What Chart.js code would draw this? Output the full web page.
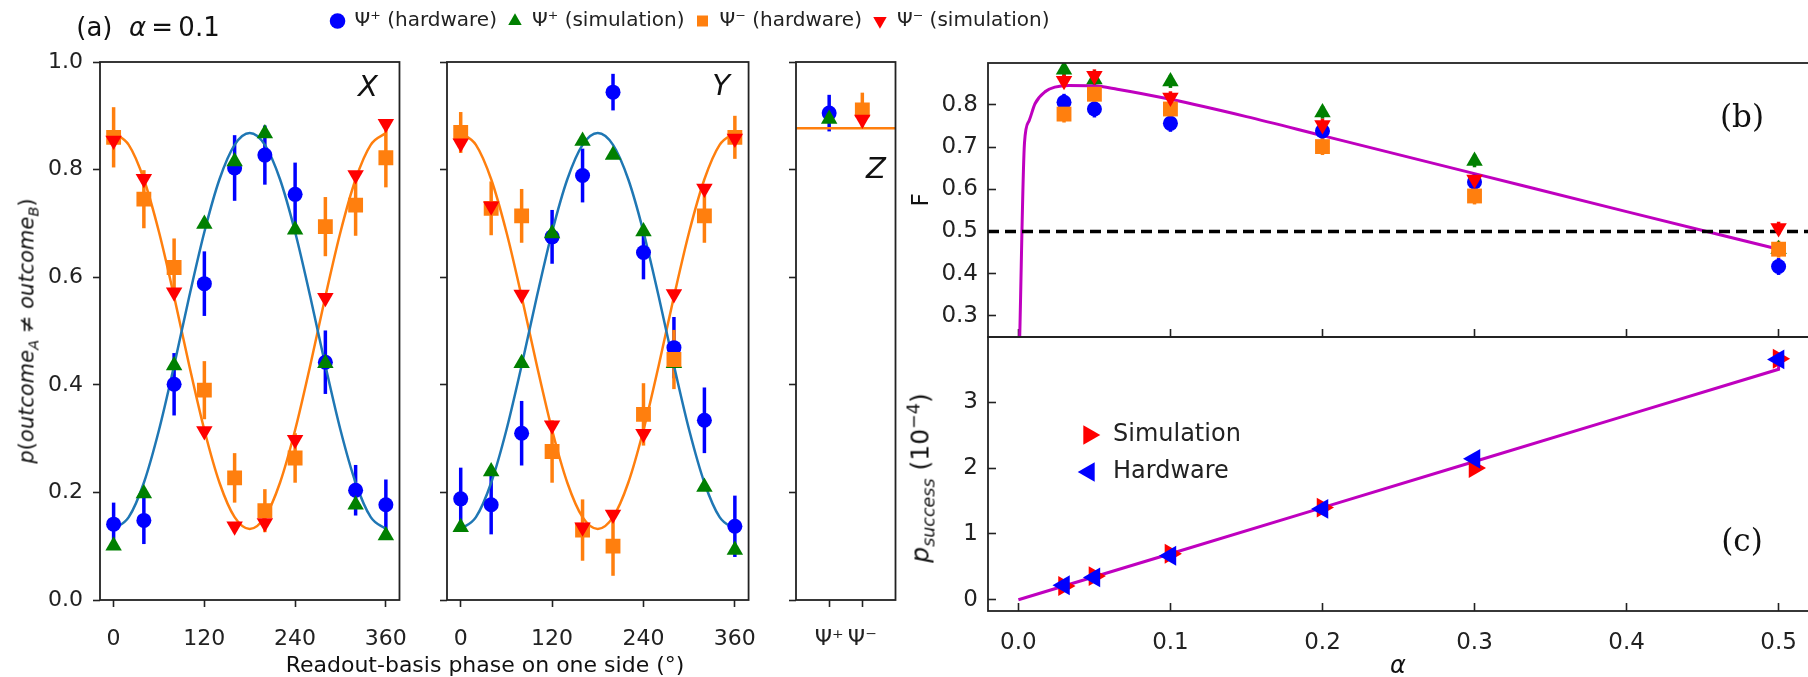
<!DOCTYPE html>
<html>
<head>
<meta charset="utf-8">
<script src="https://cdn.jsdelivr.net/npm/chart.js@4.4.1/dist/chart.umd.min.js"></script>
<style>
  html, body { margin: 0; background: #fff; }
  body { position: relative; width: 1808px; height: 677px; overflow: hidden; font-family: 'DejaVu Sans'; color: #111; }
  canvas { position: absolute; }
  .lbl { position: absolute; white-space: nowrap; transform: translate(-50%, -50%); line-height: 1; }
  .rot { transform: translate(-50%, -50%) rotate(-90deg); }
  .serif { font-family: 'DejaVu Serif'; }
  sub, sup { font-size: 70%; line-height: 0; }
</style>
</head>
<body>
<canvas id="legendTop"></canvas>
<canvas id="cx"></canvas>
<canvas id="cy"></canvas>
<canvas id="cz"></canvas>
<canvas id="cb"></canvas>
<canvas id="cc"></canvas>
<canvas id="legendC"></canvas>

<div class="lbl" style="left:148px;top:27px;font-size:26px">(a)&nbsp; <i>α</i>&thinsp;=&thinsp;0.1</div>
<div class="lbl" style="left:368px;top:86px;font-size:29px"><i>X</i></div>
<div class="lbl" style="left:721px;top:85px;font-size:29px"><i>Y</i></div>
<div class="lbl" style="left:876px;top:168px;font-size:29px"><i>Z</i></div>
<div class="lbl rot" style="left:27px;top:331px;font-size:21px"><i>p</i>(<i>outcome</i><sub><i>A</i></sub> ≠ <i>outcome</i><sub><i>B</i></sub>)</div>
<div class="lbl" style="left:485px;top:665px;font-size:22px">Readout-basis phase on one side (°)</div>
<div class="lbl rot" style="left:920px;top:200px;font-size:23px">F</div>
<div class="lbl rot" style="left:920px;top:478px;font-size:25px"><i>p</i><sub><i>success</i></sub> (10<sup>−4</sup>)</div>
<div class="lbl" style="left:1398px;top:665px;font-size:24px"><i>α</i></div>
<div class="lbl serif" style="left:1742px;top:116px;font-size:31px">(b)</div>
<div class="lbl serif" style="left:1742px;top:540px;font-size:31px">(c)</div>

<script>
// ---- panel (a): readout phase scans, alpha = 0.1 ----
const phases = [0, 40, 80, 120, 160, 200, 240, 280, 320, 360];

const xPlusHw     = [0.141, 0.148, 0.401, 0.588, 0.803, 0.827, 0.754, 0.442, 0.204, 0.177];
const xPlusHwErr  = [0.040, 0.044, 0.058, 0.060, 0.061, 0.055, 0.059, 0.059, 0.047, 0.047];
const xPlusSim    = [0.101, 0.198, 0.436, 0.699, 0.815, 0.867, 0.688, 0.440, 0.177, 0.120];
const xMinusHw    = [0.860, 0.745, 0.618, 0.390, 0.227, 0.166, 0.264, 0.694, 0.734, 0.822];
const xMinusHwErr = [0.056, 0.054, 0.054, 0.054, 0.046, 0.040, 0.046, 0.055, 0.057, 0.055];
const xMinusSim   = [0.854, 0.783, 0.572, 0.314, 0.137, 0.143, 0.298, 0.562, 0.790, 0.885];

const yPlusHw     = [0.188, 0.177, 0.310, 0.675, 0.789, 0.944, 0.646, 0.469, 0.334, 0.137];
const yPlusHwErr  = [0.058, 0.055, 0.060, 0.050, 0.050, 0.034, 0.050, 0.057, 0.061, 0.057];
const yPlusSim    = [0.135, 0.239, 0.440, 0.681, 0.853, 0.827, 0.685, 0.440, 0.210, 0.093];
const yMinusHw    = [0.869, 0.728, 0.714, 0.276, 0.130, 0.100, 0.345, 0.447, 0.714, 0.860];
const yMinusHwErr = [0.038, 0.050, 0.050, 0.058, 0.057, 0.055, 0.058, 0.055, 0.050, 0.040];
const yMinusSim   = [0.849, 0.732, 0.568, 0.325, 0.135, 0.159, 0.309, 0.569, 0.765, 0.858];

// fitted curves
const fitPhase = [0, 20, 40, 60, 80, 100, 120, 140, 160, 180, 200, 220, 240, 260, 280, 300, 320, 340, 360];
const fitPlus  = [0.132, 0.154, 0.218, 0.316, 0.436, 0.564, 0.684, 0.782, 0.846, 0.868, 0.846, 0.782, 0.684, 0.564, 0.436, 0.316, 0.218, 0.154, 0.132];
const fitMinus = [0.868, 0.846, 0.782, 0.684, 0.564, 0.436, 0.316, 0.218, 0.154, 0.132, 0.154, 0.218, 0.316, 0.436, 0.564, 0.684, 0.782, 0.846, 0.868];

const zCategories = ['Ψ⁺', 'Ψ⁻'];
const zHw    = [0.905, 0.911];
const zHwErr = [0.034, 0.032];
const zSim   = [0.894, 0.893];
const zFit   = 0.877;

const seriesNames = ['Ψ⁺ (hardware)', 'Ψ⁺ (simulation)', 'Ψ⁻ (hardware)', 'Ψ⁻ (simulation)'];

// ---- panel (b): fidelity vs alpha ----
const alphas    = [0.03, 0.05, 0.1, 0.2, 0.3, 0.5];
const fPlusHw   = [0.806, 0.790, 0.756, 0.738, 0.617, 0.417];
const fPlusSim  = [0.883, 0.860, 0.855, 0.782, 0.667, 0.458];
const fMinusHw  = [0.778, 0.825, 0.790, 0.701, 0.584, 0.458];
const fMinusSim = [0.857, 0.869, 0.817, 0.752, 0.623, 0.508];
const fHwErr    = [0.02, 0.02, 0.02, 0.02, 0.02, 0.02];
const fSimErr   = [0.015, 0.015, 0.015, 0.015, 0.015, 0.015];
const fitAlpha  = [0.0008, 0.004, 0.007, 0.011, 0.018, 0.024, 0.033, 0.05, 0.065, 0.1, 0.15, 0.2, 0.3, 0.4, 0.5];
const fitF      = [0.24, 0.71, 0.762, 0.803, 0.832, 0.842, 0.846, 0.845, 0.837, 0.813, 0.772, 0.727, 0.637, 0.547, 0.458];
const fThreshold = 0.5;

// ---- panel (c): success probability (1e-4) vs alpha ----
const pSim = [0.21, 0.36, 0.70, 1.40, 2.00, 3.66];
const pHw  = [0.22, 0.34, 0.67, 1.38, 2.14, 3.65];
const pFitAlpha = [0, 0.1, 0.2, 0.3, 0.4, 0.5, 0.5];
const pFit      = [0, 0.70, 1.40, 2.10, 2.80, 3.50, 3.66];
const cLegend = ['Simulation', 'Hardware'];

// ---- styling ----
const BLUE = '#0000ff', GREEN = '#008000', ORANGE = '#ff7f0e', RED = '#ff0000';
const TAB_BLUE = '#1f77b4', MAGENTA = '#bf00bf', INK = '#222';

Chart.defaults.font.family = "'DejaVu Sans'";
Chart.defaults.color = INK;

const pts = (xs, ys) => xs.map((x, i) => ({ x, y: ys[i] }));

// vertical error bars, drawn through the chart's own scales
const errorBars = {
  id: 'errorBars',
  beforeDatasetsDraw(chart) {
    const { ctx, scales: { x, y } } = chart;
    ctx.save();
    chart.data.datasets.forEach((ds, i) => {
      if (!ds.errors || !chart.isDatasetVisible(i)) return;
      ctx.strokeStyle = ds.pointBackgroundColor;
      ctx.lineWidth = ds.errorWidth || 3.5;
      ds.data.forEach((p, j) => {
        const e = ds.errors[j];
        if (!e) return;
        const px = x.getPixelForValue(p.x);
        ctx.beginPath();
        ctx.moveTo(px, y.getPixelForValue(p.y - e));
        ctx.lineTo(px, y.getPixelForValue(p.y + e));
        ctx.stroke();
      });
    });
    ctx.restore();
  }
};

// box around the plot area (matplotlib spines)
const frame = {
  id: 'frame',
  afterDatasetsDraw(chart, args, opts) {
    const { ctx, chartArea: a } = chart;
    ctx.save();
    ctx.strokeStyle = INK;
    ctx.lineWidth = opts.width || 1.8;
    ctx.strokeRect(a.left, a.top, a.right - a.left, a.bottom - a.top);
    ctx.restore();
  }
};
Chart.register(errorBars, frame);

function marker(label, data, kind, order, errors, size) {
  const s = {
    plusHw:   { pointStyle: 'circle',   r: 7.5, c: BLUE },
    plusSim:  { pointStyle: 'triangle', r: 9.5, c: GREEN, rot: 0 },
    minusHw:  { pointStyle: 'rect',     r: 10.5, c: ORANGE },
    minusSim: { pointStyle: 'triangle', r: 9.5, c: RED, rot: 180 },
    right:    { pointStyle: 'triangle', r: 11.5, c: RED, rot: 90 },
    left:     { pointStyle: 'triangle', r: 11.5, c: BLUE, rot: -90 }
  }[kind];
  return {
    label, data, order, errors,
    pointStyle: s.pointStyle, pointRotation: s.rot || 0,
    pointRadius: size || s.r, pointHoverRadius: size || s.r,
    pointBackgroundColor: s.c, backgroundColor: s.c, borderColor: s.c,
    pointBorderWidth: 0, borderWidth: 0, showLine: false
  };
}

function curve(data, color, width, extra) {
  return Object.assign({
    type: 'line', data, borderColor: color, borderWidth: width, pointRadius: 0,
    fill: false, order: 10, cubicInterpolationMode: 'monotone', clip: 0
  }, extra || {});
}

function scale(axis, min, max, step, o) {
  return {
    type: 'linear', min, max, position: axis === 'x' ? 'bottom' : 'left',
    afterFit: s => { if (axis === 'x') s.height = o.size; else s.width = o.size; },
    afterBuildTicks: o.fixed ? (s => { s.ticks = o.fixed.map(v => ({ value: v })); }) : undefined,
    ticks: {
      stepSize: step, includeBounds: false, display: o.labels !== false,
      padding: o.pad || 8, color: INK, font: { size: o.font || 22 },
      callback: o.fmt, maxRotation: 0, autoSkip: false
    },
    grid: { drawOnChartArea: false, drawTicks: true, tickLength: o.tick, tickWidth: 1.6, tickColor: INK },
    border: { display: false }
  };
}

function place(id, area, yW, xH, pad) {
  const cv = document.getElementById(id);
  const w = area.r - area.l + yW + pad[0] + pad[2];
  const h = area.b - area.t + xH + pad[1] + pad[3];
  cv.width = w; cv.height = h;
  cv.style.width = w + 'px'; cv.style.height = h + 'px';
  cv.style.left = (area.l - yW - pad[0]) + 'px';
  cv.style.top = (area.t - pad[1]) + 'px';
  return cv;
}

function panel(id, area, yW, xH, pad, datasets, scales) {
  return new Chart(place(id, area, yW, xH, pad), {
    type: 'scatter',
    data: { datasets },
    options: {
      responsive: false, animation: false, devicePixelRatio: 1,
      layout: { padding: { left: pad[0], top: pad[1], right: pad[2], bottom: pad[3] } },
      plugins: { legend: { display: false }, tooltip: { enabled: false } },
      scales
    }
  });
}

const fmt1 = v => v.toFixed(1);
const AREA = {
  x: { l: 100, t: 62, r: 402, b: 600 },
  y: { l: 447, t: 62, r: 751, b: 600 },
  z: { l: 796, t: 62, r: 896, b: 600 },
  b: { l: 988, t: 63, r: 1809, b: 337 },
  c: { l: 988, t: 337, r: 1809, b: 611 }
};

function phaseSets(pHw, pHwErr, pSim, mHw, mHwErr, mSim) {
  return [
    marker(seriesNames[0], pts(phases, pHw), 'plusHw', 3, pHwErr),
    marker(seriesNames[1], pts(phases, pSim), 'plusSim', 2),
    marker(seriesNames[2], pts(phases, mHw), 'minusHw', 1, mHwErr),
    marker(seriesNames[3], pts(phases, mSim), 'minusSim', 0),
    curve(pts(fitPhase, fitPlus), TAB_BLUE, 2.5),
    curve(pts(fitPhase, fitMinus), ORANGE, 2.5)
  ];
}

// (a) X
panel('cx', AREA.x, 75, 50, [5, 34, 25, 5],
  phaseSets(xPlusHw, xPlusHwErr, xPlusSim, xMinusHw, xMinusHwErr, xMinusSim),
  {
    x: scale('x', -18, 378, 120, { size: 50, tick: 7, pad: 19 }),
    y: scale('y', 0, 1, 0.2, { size: 75, tick: 7, pad: 10, fmt: fmt1 })
  });

// (a) Y
panel('cy', AREA.y, 20, 50, [5, 34, 25, 5],
  phaseSets(yPlusHw, yPlusHwErr, yPlusSim, yMinusHw, yMinusHwErr, yMinusSim),
  {
    x: scale('x', -18, 378, 120, { size: 50, tick: 7, pad: 19 }),
    y: scale('y', 0, 1, 0.2, { size: 20, tick: 7, labels: false })
  });

// (a) Z
const zIdx = zCategories.map((_, i) => i);
panel('cz', AREA.z, 20, 50, [5, 34, 10, 5],
  [
    marker(seriesNames[0], pts([zIdx[0]], [zHw[0]]), 'plusHw', 3, [zHwErr[0]]),
    marker(seriesNames[1], pts([zIdx[0]], [zSim[0]]), 'plusSim', 2),
    marker(seriesNames[2], pts([zIdx[1]], [zHw[1]]), 'minusHw', 1, [zHwErr[1]]),
    marker(seriesNames[3], pts([zIdx[1]], [zSim[1]]), 'minusSim', 0),
    curve(pts([-1, 2], [zFit, zFit]), ORANGE, 2.5, { cubicInterpolationMode: 'default' })
  ],
  {
    x: scale('x', -1, 2, 1, { size: 50, tick: 7, pad: 19, fixed: zIdx, fmt: v => zCategories[v] }),
    y: scale('y', 0, 1, 0.2, { size: 20, tick: 7, labels: false })
  });

// (b) fidelity
panel('cb', AREA.b, 80, 0, [5, 44, 20, 44],
  [
    marker(seriesNames[0], pts(alphas, fPlusHw), 'plusHw', 3, fHwErr),
    marker(seriesNames[1], pts(alphas, fPlusSim), 'plusSim', 2, fSimErr),
    marker(seriesNames[2], pts(alphas, fMinusHw), 'minusHw', 1, fHwErr),
    marker(seriesNames[3], pts(alphas, fMinusSim), 'minusSim', 0, fSimErr),
    curve(pts(fitAlpha, fitF), MAGENTA, 3),
    curve(pts([-0.02, 0.52], [fThreshold, fThreshold]), '#000', 3.5,
      { borderDash: [11, 6], cubicInterpolationMode: 'default', order: 9 })
  ],
  {
    x: scale('x', -0.02, 0.52, 0.1, { size: 0, tick: -8, labels: false }),
    y: scale('y', 0.25, 0.899, 0.1, { size: 80, tick: -8, pad: 18, fmt: fmt1, font: 23 })
  });

// (c) success probability
panel('cc', AREA.c, 80, 52, [5, 44, 20, 5],
  [
    marker(cLegend[1], pts(alphas, pHw), 'left', 0),
    marker(cLegend[0], pts(alphas, pSim), 'right', 1),
    curve(pts(pFitAlpha, pFit), MAGENTA, 3, { cubicInterpolationMode: 'default', order: 5 })
  ],
  {
    x: scale('x', -0.02, 0.52, 0.1, { size: 52, tick: -8, pad: 26, fmt: fmt1, font: 23 }),
    y: scale('y', -0.17, 3.99, 1, { size: 80, tick: -8, pad: 18, fmt: v => String(v), font: 23 })
  });

// legends
function legendChart(id, box, datasets, labelOpts) {
  const cv = document.getElementById(id);
  cv.width = box.w; cv.height = box.h;
  cv.style.width = box.w + 'px'; cv.style.height = box.h + 'px';
  cv.style.left = box.x + 'px'; cv.style.top = box.y + 'px';
  return new Chart(cv, {
    type: 'scatter',
    data: { datasets },
    options: {
      responsive: false, animation: false, devicePixelRatio: 1,
      layout: { padding: 0 },
      scales: { x: { display: false }, y: { display: false } },
      plugins: {
        frame: false, tooltip: { enabled: false },
        legend: { position: 'top', align: labelOpts.align, onClick: null, labels: labelOpts.labels }
      }
    }
  });
}

legendChart('legendTop', { x: 240, y: 0, w: 900, h: 120 },
  [
    marker(seriesNames[0], [], 'plusHw', 0),
    marker(seriesNames[1], [], 'plusSim', 1),
    marker(seriesNames[2], [], 'minusHw', 2),
    marker(seriesNames[3], [], 'minusSim', 3)
  ],
  { align: 'center', labels: { usePointStyle: true, boxWidth: 14, boxHeight: 11, padding: 11, color: INK, font: { size: 20 } } });

legendChart('legendC', { x: 1064, y: 410, w: 200, h: 260 },
  [
    marker(cLegend[0], [], 'right', 0),
    marker(cLegend[1], [], 'left', 1)
  ],
  { align: 'start', labels: { usePointStyle: true, boxWidth: 24, boxHeight: 16, padding: 13, color: INK, font: { size: 24 } } });
</script>
</body>
</html>
